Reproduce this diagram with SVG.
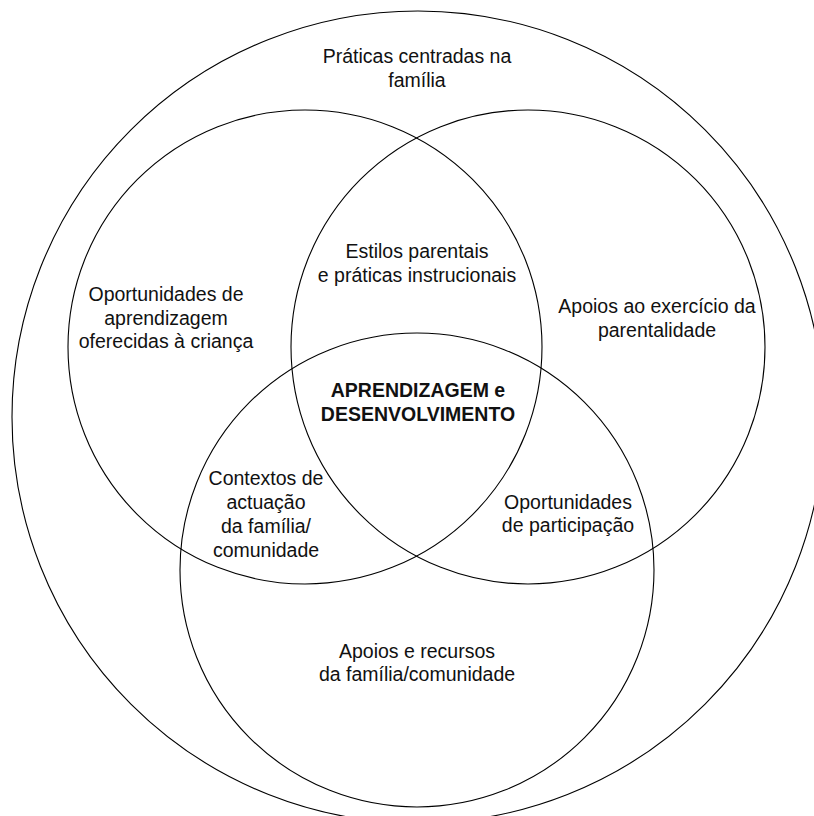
<svg xmlns="http://www.w3.org/2000/svg" width="814" height="816" viewBox="0 0 814 816">
<style>
.c{fill:none;stroke:#000;stroke-width:1.1}
text{font-family:"Liberation Sans",Arial,sans-serif;font-size:19.5px;fill:#111;text-anchor:middle}
.b{font-weight:bold}
</style>
<rect width="814" height="816" fill="#fff"/>
<g id="outer">
<circle class="c" cx="418" cy="417" r="406"/>
<text x="417" y="63">Práticas centradas na</text>
<text x="417" y="87">família</text>
</g>
<g id="circle-left">
<circle class="c" cx="305" cy="347" r="237"/>
<text x="166" y="301">Oportunidades de</text>
<text x="166" y="325">aprendizagem</text>
<text x="166" y="348">oferecidas à criança</text>
</g>
<g id="circle-right">
<circle class="c" cx="528" cy="347" r="237"/>
<text x="657" y="313">Apoios ao exercício da</text>
<text x="657" y="337">parentalidade</text>
</g>
<g id="circle-bottom">
<circle class="c" cx="417" cy="570" r="237"/>
<text x="417" y="658">Apoios e recursos</text>
<text x="417" y="681">da família/comunidade</text>
</g>
<g id="overlap-top">
<text x="417" y="258">Estilos parentais</text>
<text x="417" y="282">e práticas instrucionais</text>
</g>
<g id="overlap-left">
<text x="266" y="485">Contextos de</text>
<text x="266" y="509">actuação</text>
<text x="266" y="533">da família/</text>
<text x="266" y="557">comunidade</text>
</g>
<g id="overlap-right">
<text x="568" y="509">Oportunidades</text>
<text x="568" y="532">de participação</text>
</g>
<g id="center">
<text class="b" x="418" y="397">APRENDIZAGEM e</text>
<text class="b" x="418" y="421">DESENVOLVIMENTO</text>
</g>
</svg>
